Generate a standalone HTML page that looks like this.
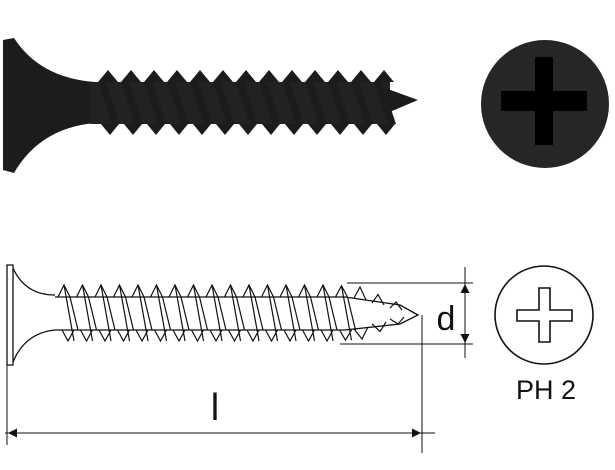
<!DOCTYPE html>
<html><head><meta charset="utf-8"><style>html,body{margin:0;padding:0;background:#fff}svg{display:block}</style></head>
<body>
<svg id="s" width="615" height="470" viewBox="0 0 615 470" xmlns="http://www.w3.org/2000/svg">
<defs>
<marker id="a" viewBox="0 0 10 10" refX="10" refY="5" markerWidth="12" markerHeight="9" orient="auto" markerUnits="userSpaceOnUse"><path d="M0,0L10,5L0,10z" fill="#111"/></marker>
</defs>
<g fill="#1c1c1c">
<path d="M3,40 L14,38 Q40,78 95,82 L95,123 Q40,128 14,173 L3,170 Z"/>
<rect x="90" y="82" width="300" height="42" fill="#222"/>
<path id="tz" d=""/>
<path d="M385,88 L418,100 L385,114 Z"/>
</g>
<circle cx="545" cy="104" r="64" fill="#262626"/>
<path d="M535,57 h18 v34 h34 v20 h-34 v34 h-18 v-34 h-34 v-20 h34 z" fill="#000"/>
<g fill="none" stroke="#111" stroke-width="1.3">
<path d="M7,265 L13,265 L13,365 L7,365 Z"/>
<path d="M13,268 Q25,295 55,295 M13,362 Q25,333 55,330"/>
<path d="M55,297 L345,297 L400,305 L418,315 L400,324 L345,330 L55,330"/>
<path id="bz" d="" stroke-width="1.2"/>
<path d="M347,283 H473 M340,344 H473 M465,267 V358 M422,315 V453 M7,365 V445 M5,433 H435" stroke-width="1"/>
</g>
<g fill="none" stroke="#111" stroke-width="1">
<path d="M465,305 V284" marker-end="url(#a)"/>
<path d="M465,325 V343" marker-end="url(#a)"/>
<path d="M40,433 H8" marker-end="url(#a)"/>
<path d="M390,433 H421" marker-end="url(#a)"/>
</g>
<g fill="none" stroke="#111" stroke-width="1.6">
<circle cx="544" cy="315" r="49"/>
<path d="M539,288 h11 v22 h22 v11 h-22 v21 h-11 v-21 h-22 v-11 h22 z"/>
</g>
<text x="446" y="330" font-family="Liberation Sans, sans-serif" font-size="34" fill="#111" text-anchor="middle">d</text>
<text x="215" y="420" font-family="Liberation Sans, sans-serif" font-size="38" fill="#111" text-anchor="middle">l</text>
<text x="546" y="399" font-family="Liberation Sans, sans-serif" font-size="27" fill="#111" text-anchor="middle">PH 2</text>
<script>
(function(){
 var d="";
 for(var i=0;i<13;i++){var x=98+i*23;d+="M"+x+",82 L"+(x+10)+",70 L"+(x+20)+",82 Z M"+(x+3)+",124 L"+(x+12)+",135 L"+(x+21)+",124 Z M"+x+",82 L"+(x+14)+",124 L"+(x+22)+",124 L"+(x+8)+",82 Z ";}
 document.getElementById("tz").setAttribute("d",d);
 var b="";
 for(var j=0;j<16;j++){var X=58+j*18.5,h=(X>330)?(X-330)*0.15:0;
  b+="M"+X+",297 L"+(X+6)+","+(285+h)+" L"+(X+12)+",297 ";
  b+="M"+(X+4)+",330 L"+(X+10)+","+(341-h)+" L"+(X+16)+",330 ";
  b+="M"+(X+6)+","+(285+h)+" L"+(X+16)+","+(341-h)+" M"+(X+12)+",297 L"+(X+20)+",330 ";}
 for(var k=0;k<3;k++){var Y=354+k*18,t=k*5;b+="M"+Y+","+(298+t)+" L"+(Y+6)+","+(287+t*1.5)+" L"+(Y+12)+","+(300+t)+" M"+Y+","+(329-t)+" L"+(Y+8)+","+(339-t*1.5)+" L"+(Y+14)+","+(327-t)+" ";}
 document.getElementById("bz").setAttribute("d",b);
})();
</script>
</svg>
</body></html>
